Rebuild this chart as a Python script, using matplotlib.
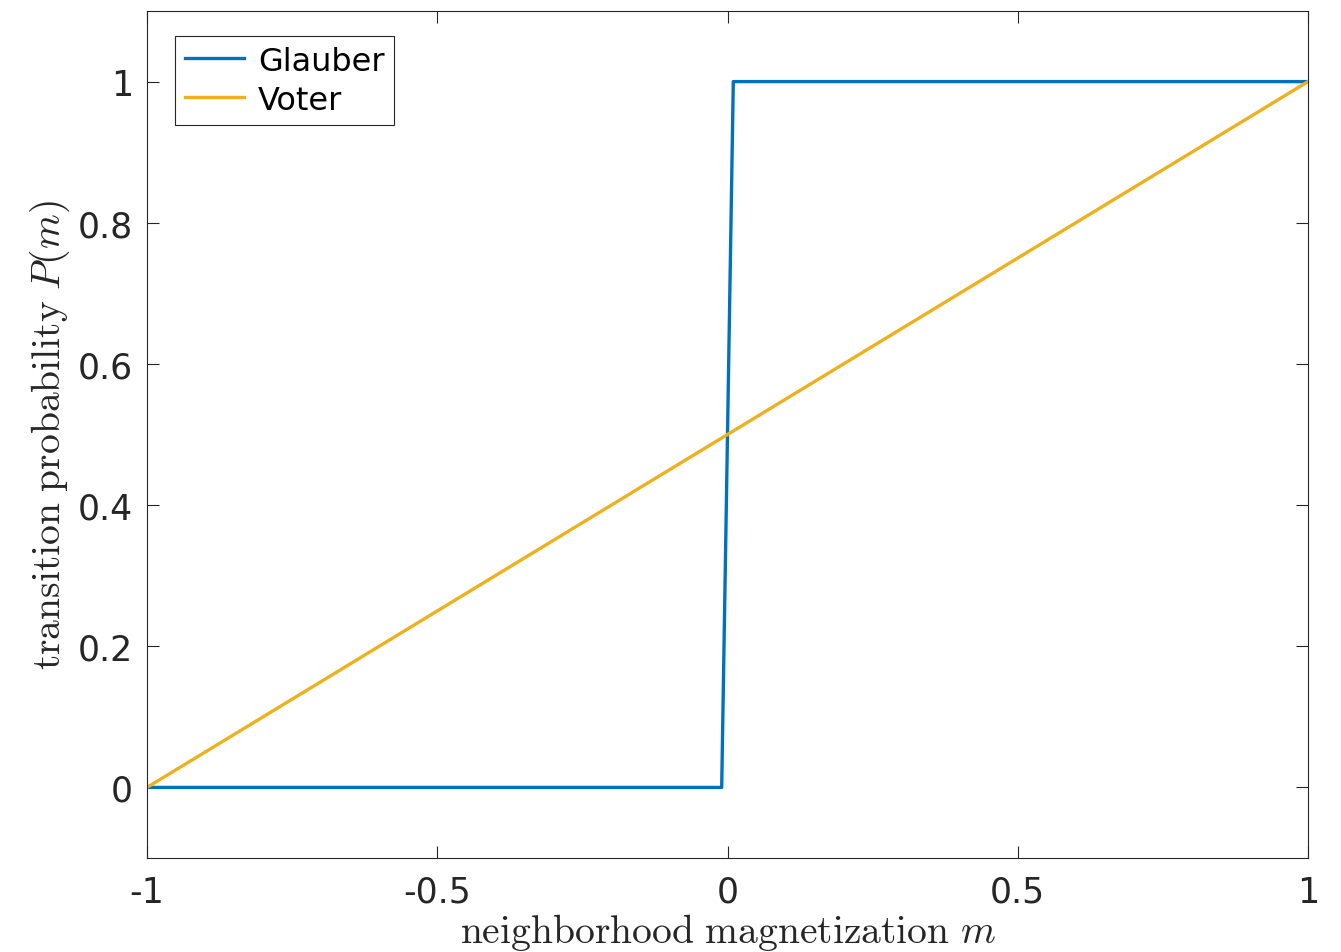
import matplotlib.pyplot as plt

plt.rcParams['mathtext.fontset'] = 'cm'
plt.rcParams['font.family'] = 'DejaVu Sans'

glauber_m = [-1, -0.01, 0.01, 1]
glauber_p = [0, 0, 1, 1]
voter_m = [-1, 1]
voter_p = [0, 1]
x_ticks = [-1, -0.5, 0, 0.5, 1]
x_labels = ['-1', '-0.5', '0', '0.5', '1']
y_ticks = [0, 0.2, 0.4, 0.6, 0.8, 1]
y_labels = ['0', '0.2', '0.4', '0.6', '0.8', '1']

fig = plt.figure(figsize=(13.41, 9.53), dpi=100)
ax = fig.add_axes([147/1341, 1 - 859/953, (1308-147)/1341, (859-12)/953])

ax.plot(glauber_m, glauber_p, color='#0072BD', lw=2.4, label='Glauber')
ax.plot(voter_m, voter_p, color='#EDB120', lw=2.4, label='Voter')

ax.set_xlim(-1, 1)
ax.set_ylim(-0.1, 1.1)
ax.set_xticks(x_ticks)
ax.set_xticklabels(x_labels)
ax.set_yticks(y_ticks)
ax.set_yticklabels(y_labels)
ax.tick_params(direction='in', length=8.5, width=0.8, top=True, right=True,
               labelsize=25, colors='#262626', pad=10)
ax.tick_params(axis='x', pad=12)
for s in ax.spines.values():
    s.set_color('#262626')
    s.set_linewidth(0.8)

ax.set_xlabel(r'$\mathrm{neighborhood\ magnetization}\ m$', fontsize=28.5, color='#262626', labelpad=2)
ax.set_ylabel(r'$\mathrm{transition\ probability}\ P(m)$', fontsize=28.5, color='#262626', labelpad=4)

leg = ax.legend(loc='upper left', fontsize=23, fancybox=False, framealpha=1,
                edgecolor='#262626', handlelength=1.85, handletextpad=0.45,
                borderpad=0.3, labelspacing=0.25, borderaxespad=0.0,
                bbox_to_anchor=((175-147)/1161, 1 - (37-12)/847))
leg.get_frame().set_linewidth(0.8)

fig.savefig('out.png', dpi=100)
